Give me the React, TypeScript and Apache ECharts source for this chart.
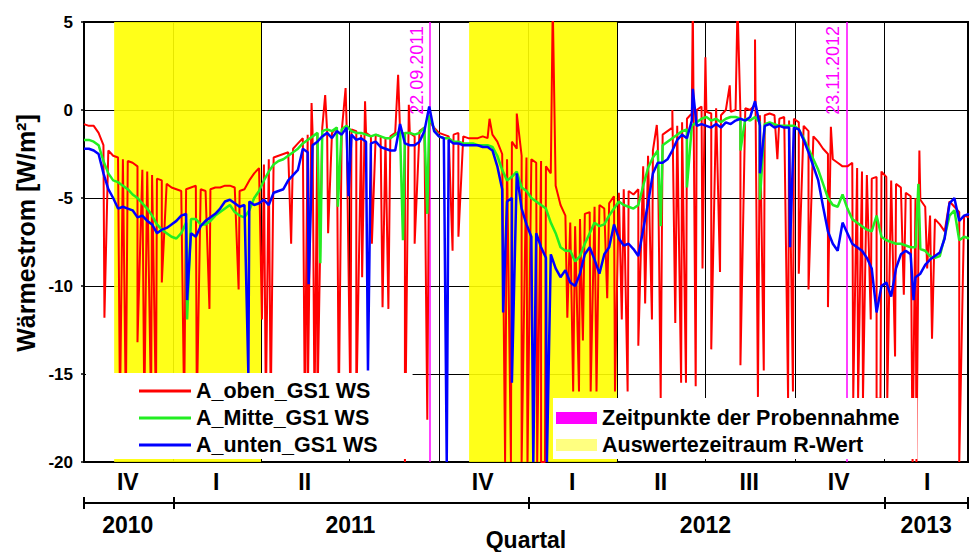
import { useEffect, useRef } from 'react';
import * as echarts from 'echarts';

const DAY_MS = 86400000;
const utc = (s: string) => {
  const [y, m, d] = s.split('-').map(Number);
  return Date.UTC(y, m - 1, d);
};

const START = utc('2010-10-01');
const END = utc('2013-03-28');
// base readings are taken every STEP_DAYS days from START
const STEP_DAYS = 5;

const FONT = '"Liberation Sans", Arial, Helvetica, sans-serif';

const seriesNames = ['A_oben_GS1 WS', 'A_Mitte_GS1 WS', 'A_unten_GS1 WS'];
const seriesColors = ['#ff0000', '#22ee22', '#0000ff'];

// Wärmestrom [W/m²], one reading every 5 days from 01.10.2010
const obenBase = [
  -0.8, -0.9, -0.9, -1.3, -2.0, -2.3, -2.6, -2.7, -2.8, -2.9,
  -3.0, -3.2, -3.4, -3.5, -3.7, -3.9, -4.0, -4.2, -4.4, -4.5,
  -4.6, -4.5, -4.4, -4.3, -4.5, -4.6, -4.5, -4.4, -4.4, -4.3,
  -4.3, -4.4, -4.6, -4.5, -4.0, -3.6, -3.3, -3.1, -2.8, -2.7,
  -2.6, -2.5, -2.4, -2.2, -1.9, -1.6, -1.4, -1.2, -1.3, -1.0,
  -1.2, -1.3, -1.0, -1.2, -0.8, -1.1, -1.2, -1.4, -1.3, -1.5,
  -1.4, -1.5, -1.6, -1.5, -1.3, -1.2, -1.4, -1.3, -1.5, -1.2,
  -1.0, -0.6, -1.0, -1.3, -1.4, -1.5, -1.4, -1.3, -1.5, -1.6,
  -1.6, -1.6, -1.5, -1.6, -1.4, -1.8, -2.5, -2.8, -1.8, -2.2,
  -2.6, -2.7, -2.8, -3.0, -2.9, -3.2, -3.6, -4.3, -5.4, -6.0,
  -6.4, -6.6, -6.2, -5.9, -5.8, -5.5, -5.4, -5.6, -5.3, -4.9,
  -4.7, -4.5, -4.6, -4.8, -4.5, -3.2, -2.6, -2.3, -1.8, -1.4,
  -1.2, -1.0, -0.9, -0.7, -0.5, -0.2, 0.0, 0.2, -0.1, -0.2,
  0.1, -0.3, 0.0, -0.1, 0.0, -0.2, 0.1, 0.0, 0.3, -0.3,
  -0.3, -0.2, -0.3, -0.5, -0.4, -0.6, -0.5, -0.7, -0.9, -1.2,
  -1.5, -1.8, -2.2, -2.5, -2.8, -3.0, -3.2, -3.2, -3.0, -3.3,
  -3.5, -3.7, -3.9, -3.8, -3.5, -3.8, -4.0, -4.2, -4.4, -4.7,
  -4.9, -5.0, -5.1, -5.5, -6.0, -6.2, -6.5, -6.9, -5.2, -5.5,
  -5.8, -6.0, -6.1,
];

const mitteBase = [
  -1.7, -1.7, -1.8, -2.0, -2.9, -3.6, -4.0, -4.1, -4.3, -4.5,
  -4.8, -5.0, -5.3, -5.6, -6.0, -6.5, -6.8, -7.0, -7.2, -7.3,
  -7.0, -6.4, -6.2, -6.2, -6.5, -6.5, -6.3, -6.0, -5.8, -5.6,
  -5.4, -5.8, -6.0, -6.1, -5.7, -5.0, -4.6, -4.0, -3.5, -3.1,
  -2.9, -2.8, -2.6, -2.4, -2.2, -1.9, -1.7, -1.5, -1.3, -1.2,
  -1.1, -1.2, -1.0, -1.1, -0.9, -1.2, -1.3, -1.3, -1.4, -1.5,
  -1.4, -1.5, -1.6, -1.6, -1.4, -1.2, -1.3, -1.3, -1.4, -1.3,
  -1.0, -0.3, -1.1, -1.5, -1.6, -1.6, -1.8, -1.8, -1.9, -1.9,
  -1.9, -2.0, -2.0, -2.0, -2.1, -2.6, -3.4, -4.0, -3.8, -3.5,
  -4.4, -4.6, -5.0, -5.2, -5.4, -5.6, -6.4, -7.0, -7.8, -8.0,
  -8.0, -8.6, -8.3, -7.6, -7.0, -6.4, -6.6, -6.5, -6.0, -5.6,
  -5.2, -5.4, -5.5, -5.6, -5.4, -4.3, -3.3, -2.7, -2.3, -2.0,
  -1.8, -1.6, -1.4, -1.2, -1.1, -0.9, -0.7, -0.5, -0.4, -0.6,
  -0.5, -0.7, -0.5, -0.4, -0.4, -0.5, -0.5, -0.6, -0.4, -0.7,
  -0.8, -0.7, -0.8, -0.9, -0.9, -0.9, -0.9, -1.1, -1.6, -2.2,
  -2.8, -3.4, -4.2, -5.0, -5.4, -5.5, -4.8, -5.6, -6.2, -6.4,
  -6.6, -6.8, -6.9, -6.0, -7.2, -7.4, -7.5, -7.6, -7.6, -7.7,
  -7.8, -7.8, -7.9, -8.0, -8.3, -8.4, -8.3, -7.2, -6.0, -5.7,
  -7.4, -7.2, -7.3,
];

const untenBase = [
  -2.2, -2.2, -2.3, -2.5, -3.6, -4.5, -5.0, -5.6, -5.5, -5.6,
  -5.7, -6.1, -6.0, -6.3, -6.5, -7.0, -6.8, -6.7, -6.5, -6.3,
  -6.0, -5.9, -7.0, -7.2, -6.6, -6.3, -6.1, -5.9, -5.6, -5.2,
  -5.1, -5.3, -5.5, -5.4, -5.2, -5.4, -5.3, -5.1, -5.4, -4.7,
  -4.6, -4.5, -4.0, -3.7, -3.4, -2.2, -2.4, -2.0, -1.8, -1.5,
  -1.3, -1.6, -1.2, -1.4, -1.0, -1.4, -1.7, -1.6, -1.8, -1.9,
  -1.8, -2.1, -2.2, -2.3, -2.3, -0.8, -1.9, -2.0, -2.0, -1.8,
  -1.2, 0.2, -1.2, -1.5, -1.6, -1.7, -1.9, -1.9, -2.0, -2.0,
  -2.0, -2.0, -2.1, -2.1, -2.3, -3.2, -4.5, -5.2, -5.0, -3.6,
  -5.6, -6.5, -7.2, -7.0, -7.8, -8.4, -8.2, -9.0, -9.5, -9.1,
  -9.8, -10.0, -9.3, -8.2, -7.8, -8.5, -9.3, -8.2, -7.8, -6.5,
  -7.3, -7.7, -7.6, -7.9, -8.3, -6.8, -5.3, -3.6, -3.0, -3.0,
  -2.8, -2.3, -1.7, -1.4, -1.6, -0.6, -0.9, -0.8, -0.9, -1.0,
  -0.8, -1.0, -0.7, -0.8, -0.6, -0.5, -0.6, -0.4, 0.5, -0.9,
  -0.9, -0.8, -1.0, -0.9, -1.0, -1.0, -1.0, -1.1, -1.7, -2.4,
  -3.2, -4.0, -5.5, -6.9, -7.6, -8.0, -6.4, -7.0, -7.6, -7.8,
  -8.0, -8.4, -9.0, -11.5, -10.0, -9.8, -10.6, -9.0, -8.2, -8.0,
  -8.2, -9.5, -9.3, -8.8, -8.5, -8.3, -8.1, -7.3, -5.3, -5.0,
  -6.3, -6.0, -5.9,
];

// single-day excursions: [days after 01.10.2010, W/m²]
const obenSpikes: [number, number][] = [
  [21, -11.8], [37, -17], [43, -17], [55, -13.2], [62, -17], [69, -17], [74, -17], [80, -9.8],
  [103, -17], [116, -17], [129, -11.3], [159, -10.2], [183, -11.9], [187, -17], [192, -17],
  [213, -7.6], [227, -17], [230, -17], [234, 0.4], [237, -17], [240, -17], [248, 0.85],
  [251, -7.0], [262, -17], [269, 1.25], [274, -17], [280, -17], [286, -9.5], [289, 0.5],
  [296, -7.6], [307, -11.2], [313, -11.3], [323, 2.0], [330, -20], [334, 0.3], [340, -7.6],
  [353, -17.6], [379, -8.0], [385, -7.2], [417, -0.5], [433, -20], [439, -20], [445, -0.2],
  [450, -20], [456, -20], [466, -20], [470, -20], [474, -20], [482, 6], [497, -11.8],
  [503, -16], [509, -16], [513, -13.1], [521, -16], [527, -16], [538, -10.7], [546, -16],
  [553, -11.9], [559, -16], [570, -13.4], [577, -11], [584, -11.9], [589, -0.85],
  [593, -16.4], [605, 0], [608, -12.1], [614, -15.5], [619, -15.5], [626, 6], [629, -15.7],
  [636, -9.0], [639, 3.0], [645, -13.6], [654, -9.2], [664, 1.4], [672, 6], [675, -14.5],
  [690, 4.0], [693, -16.3], [699, -14.8], [713, -2.8], [724, -16.4], [729, -16], [735, -9.3],
  [745, -10.2], [765, -11.2], [768, -0.95], [791, -16.4], [796, -16.4], [801, -16.4],
  [809, -11.9], [815, -16.4], [819, -16.4], [826, -16.4], [834, -14.0], [843, -10.5],
  [852, -20], [856, -20], [859, -2.3], [867, -9.0], [872, -13.0], [900, -20],
];

const mitteSpikes: [number, number][] = [
  [106, -11.9], [243, -8.7], [261, -5.5], [328, -7.4], [353, -5.9], [593, -6.6],
  [620, -4.4], [675, -2.3], [695, -5.1], [858, -4.2],
];

const untenSpikes: [number, number][] = [
  [106, -10.8], [169, -15], [231, -9.9], [272, -4.9], [292, -14.8], [373, -20], [431, -11.5],
  [440, -15.5], [462, -20], [476, -20], [626, 1.2], [695, -3.6], [726, -7.8], [853, -10.8],
];

// quarter boundaries (vertical grid) and the roman quarter labels
const quarterStarts = [
  '2011-01-01', '2011-04-01', '2011-07-01', '2011-10-01', '2012-01-01',
  '2012-04-01', '2012-07-01', '2012-10-01', '2013-01-01',
];
const quarterLabelDates = [
  '2010-11-15', '2011-02-14', '2011-05-16', '2011-11-15', '2012-02-15',
  '2012-05-16', '2012-08-15', '2012-11-15', '2013-02-14',
];
const quarterLabels = ['IV', 'I', 'II', 'IV', 'I', 'II', 'III', 'IV', 'I'];

const yearTickDates = ['2010-10-01', '2011-01-01', '2012-01-01', '2013-01-01', '2013-03-28'];
const yearLabelDates = ['2010-11-15', '2011-07-02', '2012-07-01', '2013-02-13'];

// evaluation periods for the R-value and the sampling dates
const evaluationPeriods: [string, string][] = [
  ['2010-11-01', '2011-04-01'],
  ['2011-11-01', '2012-04-01'],
];
const samplingDates = ['2011-09-22', '2012-11-23'];

const SAMPLING_NAME = 'Zeitpunkte der Probennahme';
const PERIOD_NAME = 'Auswertezeitraum R-Wert';

function buildLine(base: number[], spikes: [number, number][]) {
  const pts: [number, number][] = base.map((v, i) => [i * STEP_DAYS, v] as [number, number]);
  spikes.forEach((s) => pts.push(s));
  pts.sort((a, b) => a[0] - b[0]);
  return pts.map(([d, v]) => [START + d * DAY_MS, v]);
}

const germanDate = (s: string) => {
  const [y, m, d] = s.split('-');
  return `${d}.${m}.${y}`;
};

const labelFor = (times: number[], labels: string[]) => (v: number) => {
  const idx = times.findIndex((t) => Math.abs(t - v) < DAY_MS / 2);
  return idx >= 0 ? labels[idx] : '';
};

const boldText = (size: number) => ({
  fontFamily: FONT,
  fontWeight: 'bold' as const,
  fontSize: size,
  color: '#000',
});

function buildOption() {
  const quarterLabelTimes = quarterLabelDates.map(utc);
  const yearLabelTimes = yearLabelDates.map(utc);
  const yearTickTimes = yearTickDates.map(utc);
  const lines = [
    buildLine(obenBase, obenSpikes),
    buildLine(mitteBase, mitteSpikes),
    buildLine(untenBase, untenSpikes),
  ];

  const blackAxisLine = { show: true, onZero: false, lineStyle: { color: '#000', width: 2 } };

  // time runs on a plain value axis in milliseconds (UTC)
  const timeAxisBase = {
    type: 'value',
    min: START,
    max: END,
    position: 'bottom',
    scale: true,
    splitLine: { show: false },
  };

  return {
    animation: false,
    backgroundColor: '#ffffff',
    textStyle: { fontFamily: FONT },
    grid: {
      left: 84,
      right: 3,
      top: 22,
      bottom: 90,
      outerBoundsMode: 'none',
      containLabel: false,
      show: true,
      borderColor: '#000',
      borderWidth: 2,
      backgroundColor: 'transparent',
    },
    legend: [
      {
        data: seriesNames.map((name) => ({ name, icon: 'rect' })),
        orient: 'vertical',
        left: 86,
        top: 373,
        padding: [7, 35, 3, 53],
        itemWidth: 52,
        itemHeight: 3,
        itemGap: 5,
        backgroundColor: '#ffffff',
        selectedMode: false,
        z: 20,
        textStyle: { ...boldText(21.5), lineHeight: 22 },
      },
      {
        data: [
          { name: SAMPLING_NAME, icon: 'rect', itemStyle: { color: '#ff00ff' } },
          { name: PERIOD_NAME, icon: 'rect', itemStyle: { color: '#ffff80' } },
        ],
        orient: 'vertical',
        left: 553,
        top: 398,
        padding: [9, 18, 3, 3],
        itemWidth: 41,
        itemHeight: 12,
        itemGap: 5,
        backgroundColor: '#ffffff',
        selectedMode: false,
        z: 20,
        textStyle: { ...boldText(21.5), lineHeight: 22 },
      },
    ],
    xAxis: [
      {
        ...timeAxisBase,
        axisLine: blackAxisLine,
        axisTick: { show: false },
        axisLabel: {
          customValues: quarterLabelTimes,
          formatter: labelFor(quarterLabelTimes, quarterLabels),
          margin: 8,
          ...boldText(23),
        },
      },
      {
        ...timeAxisBase,
        offset: 41,
        axisLine: blackAxisLine,
        axisTick: {
          show: true,
          customValues: yearTickTimes,
          length: 6,
          lineStyle: { color: '#000', width: 2 },
        },
        axisLabel: {
          customValues: yearLabelTimes,
          formatter: (v: number) => String(new Date(v).getUTCFullYear()),
          margin: 10,
          ...boldText(23),
        },
        name: 'Quartal',
        nameLocation: 'middle',
        nameGap: 25,
        nameMoveOverlap: false,
        nameTextStyle: boldText(23),
      },
      {
        ...timeAxisBase,
        offset: 41,
        axisLine: { show: false, onZero: false },
        axisTick: {
          show: true,
          inside: true,
          customValues: yearTickTimes,
          length: 6,
          lineStyle: { color: '#000', width: 2 },
        },
        axisLabel: { show: false },
      },
    ],
    yAxis: {
      type: 'value',
      min: -20,
      max: 5,
      interval: 5,
      axisLine: { show: true, onZero: false, lineStyle: { color: '#000', width: 2 } },
      axisTick: { show: true, length: 3, lineStyle: { color: '#000', width: 1.5 } },
      splitLine: { show: true, lineStyle: { color: '#000', width: 1 } },
      axisLabel: { margin: 11, ...boldText(17) },
      name: 'Wärmestrom [W/m²]',
      nameLocation: 'middle',
      nameRotate: 90,
      nameGap: 46,
      nameMoveOverlap: false,
      nameTextStyle: { ...boldText(25), padding: [0, 0, 0, 18] },
    },
    series: [
      {
        name: 'Quartalsgrenzen',
        type: 'line',
        data: [],
        silent: true,
        z: 1,
        markLine: {
          silent: true,
          z: 1,
          symbol: 'none',
          label: { show: false },
          emphasis: { disabled: true },
          lineStyle: { color: '#000', width: 1, type: 'solid' },
          data: quarterStarts.map((s) => ({ xAxis: utc(s) })),
        },
      },
      {
        name: PERIOD_NAME,
        type: 'line',
        data: [],
        silent: true,
        z: 2,
        color: '#ffff80',
        markArea: {
          silent: true,
          z: 2,
          itemStyle: { color: '#ffff00', opacity: 0.9 },
          emphasis: { disabled: true },
          data: evaluationPeriods.map(([a, b]) => [{ xAxis: utc(a) }, { xAxis: utc(b) }]),
        },
      },
      {
        name: SAMPLING_NAME,
        type: 'line',
        data: [],
        silent: true,
        z: 3,
        color: '#ff00ff',
        markLine: {
          silent: true,
          z: 3,
          symbol: 'none',
          emphasis: { disabled: true },
          lineStyle: { color: '#ff00ff', width: 1.5, type: 'solid' },
          label: {
            show: true,
            position: 'insideEndTop',
            formatter: '{b}',
            color: '#ff00ff',
            fontFamily: FONT,
            fontSize: 18,
            distance: 4,
          },
          data: samplingDates.map((s) => ({ xAxis: utc(s), name: germanDate(s) })),
        },
      },
      ...seriesNames.map((name, k) => ({
        name,
        type: 'line',
        data: lines[k],
        z: 4 + k,
        color: seriesColors[k],
        symbol: 'none',
        showSymbol: false,
        silent: true,
        emphasis: { disabled: true },
        lineStyle: { color: seriesColors[k], width: k === 0 ? 2 : 2.5 },
      })),
    ],
  };
}

export default function App() {
  const ref = useRef<HTMLDivElement>(null);
  useEffect(() => {
    if (!ref.current) return;
    const chart = echarts.init(ref.current, null, { renderer: 'svg' });
    chart.setOption(buildOption() as any);
    return () => chart.dispose();
  }, []);
  return (
    <div
      ref={ref}
      style={{ position: 'fixed', left: 0, top: 0, width: 971, height: 552, background: '#fff' }}
    />
  );
}
